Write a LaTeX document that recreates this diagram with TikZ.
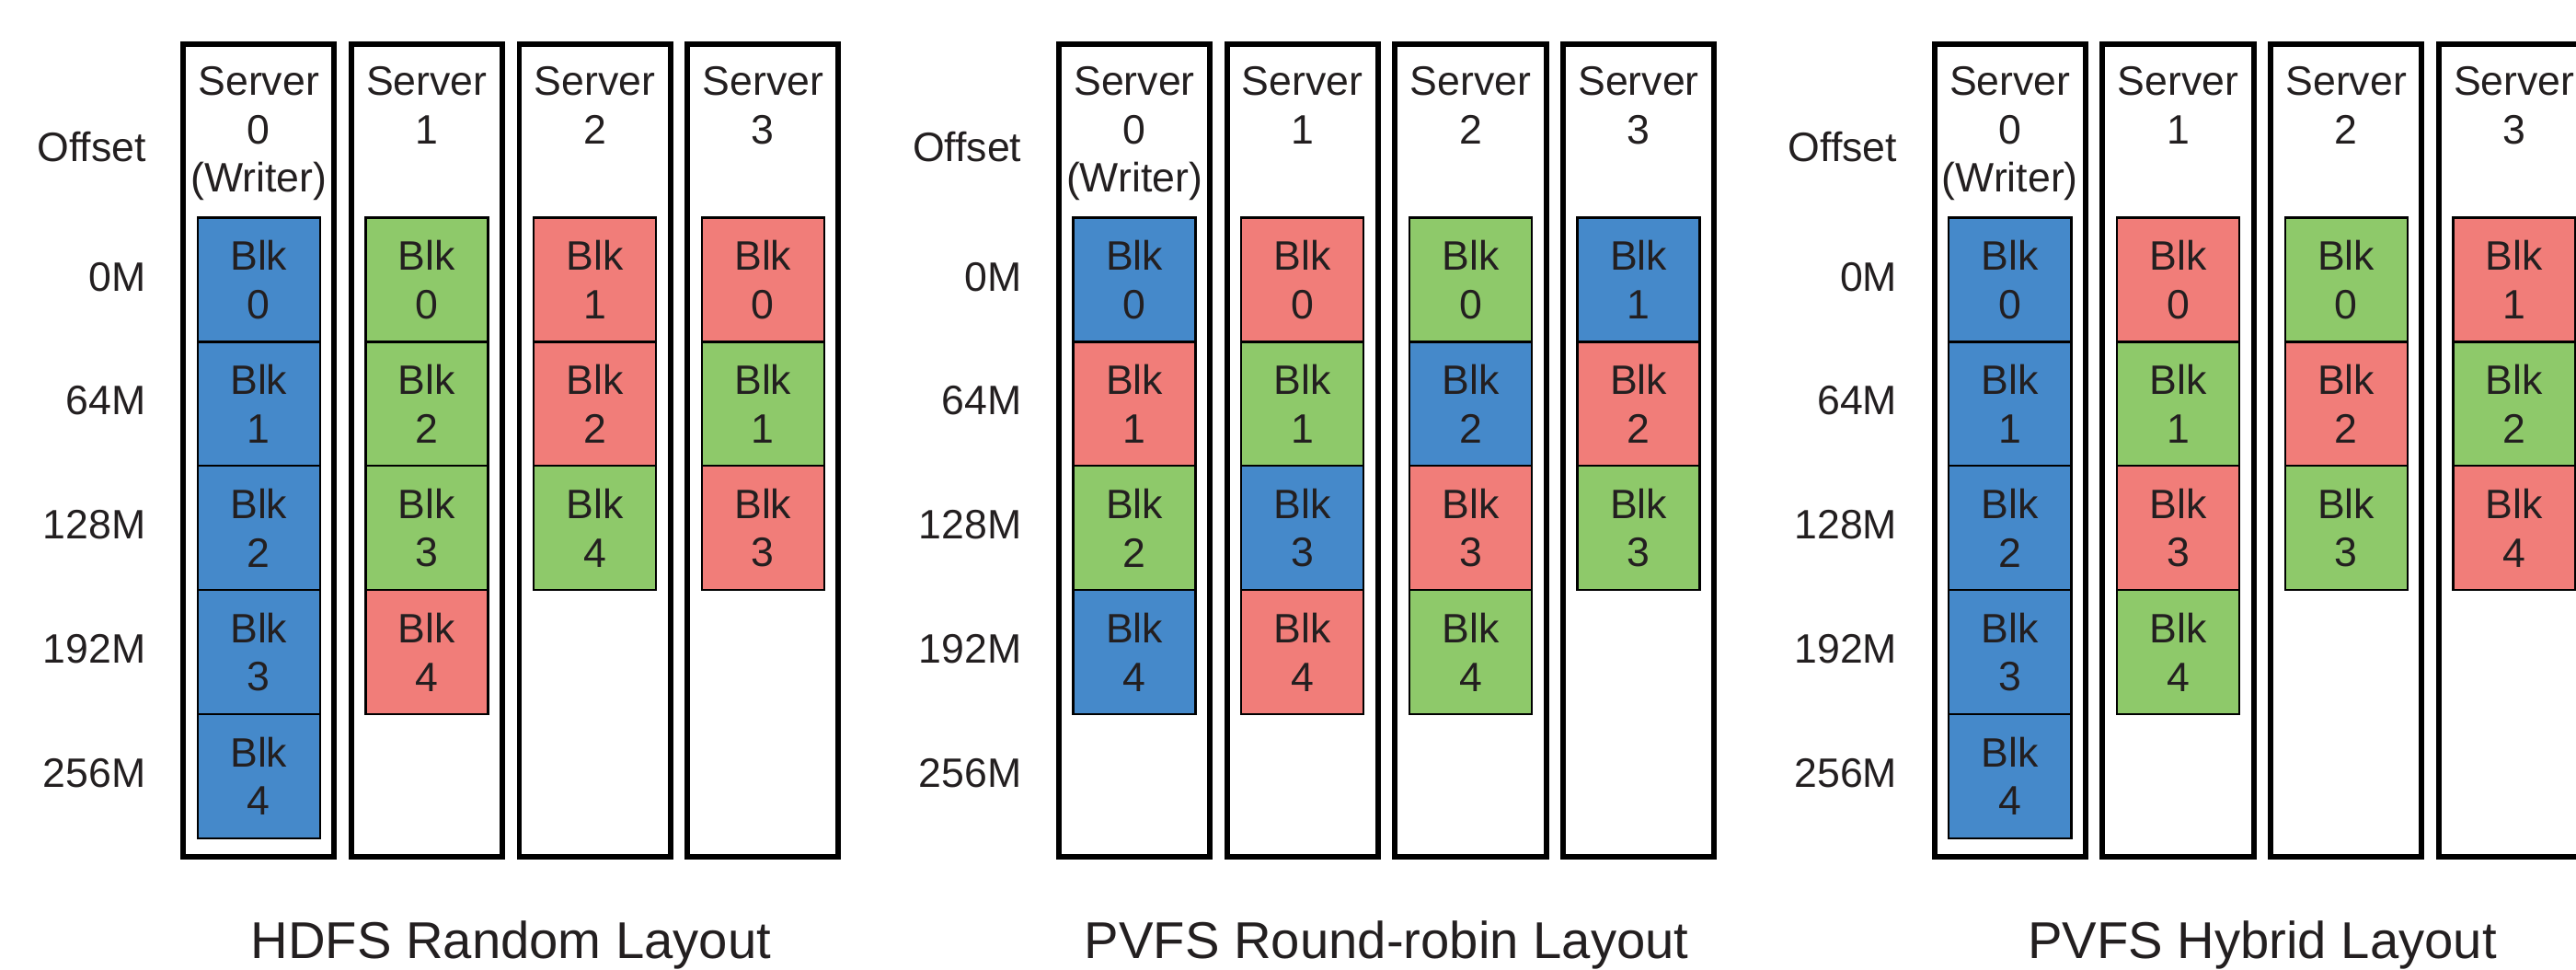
\documentclass[tikz,border=0pt]{standalone}
\usepackage{fontspec}
\setmainfont{Liberation Sans}
\definecolor{bblue}{RGB}{69,137,202}
\definecolor{bgreen}{RGB}{142,201,106}
\definecolor{bred}{RGB}{241,125,121}
\definecolor{txt}{RGB}{35,31,32}
\begin{document}
\begin{tikzpicture}[x=1pt,y=-1pt,
  lbl/.style={font=\fontsize{25}{29.5}\selectfont, text=txt, inner sep=0pt, align=center},
  ttl/.style={font=\fontsize{31.5}{36}\selectfont, text=txt, inner sep=0pt},
  srv/.style={draw=black, line width=3.3pt, minimum width=92pt, minimum height=494.6pt, inner sep=0pt},
  blkbox/.style={draw=black, line width=1.3pt, minimum width=74.5pt, minimum height=75.5pt, inner sep=0pt, lbl}]
\useasboundingbox (0,0) rectangle (1568,590);
\clip (0,0) rectangle (1568,590);
\foreach \p/\ttltext in {0/HDFS Random Layout, 1/PVFS Round-robin Layout, 2/PVFS Hybrid Layout}{
  % server boxes
  \foreach \s in {0,1,2,3}{
    \node[srv] (srv\p\s) at ({157.5+102.3*\s+533*\p}, 274) {};
  }
  % headers
  \node[lbl, anchor=north] (hd\p0) at ({157.5+533*\p}, 40.3) {Server\\0\\(Writer)};
  \foreach \s in {1,2,3}{
    \node[lbl, anchor=north] (hd\p\s) at ({157.5+102.3*\s+533*\p}, 40.3) {Server\\\s};
  }
  % offsets
  \node[lbl, anchor=base east] (off\p) at ({89+533*\p}, 98) {Offset};
  \foreach \r/\m in {0/0M,1/64M,2/128M,3/192M,4/256M}{
    \node[lbl, anchor=base east] (off\p\r) at ({89+533*\p}, {177+75.5*\r}) {\m};
  }
  % title
  \node[ttl, anchor=base] (title\p) at ({311+533*\p}, 583) {\ttltext};
}
% blocks: panel/server/row/block/colour
\foreach \p/\s/\r/\b/\c in {
  0/0/0/0/bblue, 0/0/1/1/bblue, 0/0/2/2/bblue, 0/0/3/3/bblue, 0/0/4/4/bblue,
  0/1/0/0/bgreen, 0/1/1/2/bgreen, 0/1/2/3/bgreen, 0/1/3/4/bred,
  0/2/0/1/bred, 0/2/1/2/bred, 0/2/2/4/bgreen,
  0/3/0/0/bred, 0/3/1/1/bgreen, 0/3/2/3/bred,
  1/0/0/0/bblue, 1/0/1/1/bred, 1/0/2/2/bgreen, 1/0/3/4/bblue,
  1/1/0/0/bred, 1/1/1/1/bgreen, 1/1/2/3/bblue, 1/1/3/4/bred,
  1/2/0/0/bgreen, 1/2/1/2/bblue, 1/2/2/3/bred, 1/2/3/4/bgreen,
  1/3/0/1/bblue, 1/3/1/2/bred, 1/3/2/3/bgreen,
  2/0/0/0/bblue, 2/0/1/1/bblue, 2/0/2/2/bblue, 2/0/3/3/bblue, 2/0/4/4/bblue,
  2/1/0/0/bred, 2/1/1/1/bgreen, 2/1/2/3/bred, 2/1/3/4/bgreen,
  2/2/0/0/bgreen, 2/2/1/2/bred, 2/2/2/3/bgreen,
  2/3/0/1/bred, 2/3/1/2/bgreen, 2/3/2/4/bred}{
  \node[blkbox, fill=\c] (blk\p\s\r) at ({157.5+102.3*\s+533*\p}, {170.25+75.5*\r}) {Blk\\\b};
}
\end{tikzpicture}
\end{document}
